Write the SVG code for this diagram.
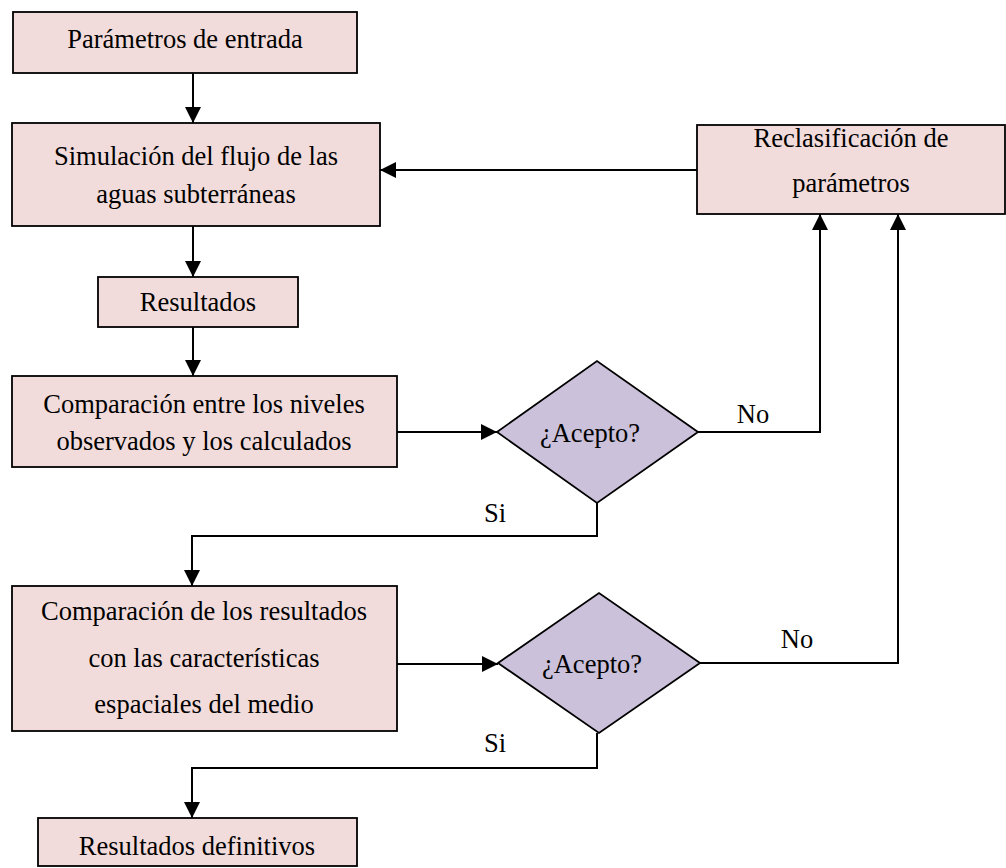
<svg xmlns="http://www.w3.org/2000/svg" width="1006" height="868" viewBox="0 0 1006 868">
<style>
.box{fill:#F2DCDB;stroke:#000;stroke-width:1.8}
.dia{fill:#CCC1DA;stroke:#000;stroke-width:1.8}
.t{font-family:"Liberation Serif","Times New Roman",serif;font-size:26.5px;fill:#000;text-anchor:middle}
.c{fill:none;stroke:#000;stroke-width:2}
</style>
<defs>
<marker id="ah" markerUnits="userSpaceOnUse" markerWidth="18" markerHeight="16" refX="16" refY="8" orient="auto">
<path d="M0,0 L16,8 L0,16 Z" fill="#000"/>
</marker>
</defs>
<rect width="1006" height="868" fill="#fff"/>
<g id="connectors">
<line class="c" x1="193" y1="73" x2="193" y2="123" marker-end="url(#ah)"/>
<line class="c" x1="193" y1="226" x2="193" y2="277" marker-end="url(#ah)"/>
<line class="c" x1="193" y1="327" x2="193" y2="376" marker-end="url(#ah)"/>
<line class="c" x1="397" y1="432" x2="497" y2="432" marker-end="url(#ah)"/>
<polyline class="c" points="698,432 820,432 820,214" marker-end="url(#ah)"/>
<line class="c" x1="697" y1="170" x2="380" y2="170" marker-end="url(#ah)"/>
<polyline class="c" points="597,503 597,536 192,536 192,586" marker-end="url(#ah)"/>
<line class="c" x1="397" y1="664" x2="498" y2="664" marker-end="url(#ah)"/>
<polyline class="c" points="700,663 898,663 898,214" marker-end="url(#ah)"/>
<polyline class="c" points="597,733 597,768 192,768 192,818" marker-end="url(#ah)"/>
<text class="t" x="753" y="423">No</text>
<text class="t" x="797" y="648">No</text>
<text class="t" x="495" y="522">Si</text>
<text class="t" x="495" y="752">Si</text>
</g>
<g id="n1"><rect class="box" x="13" y="12" width="344" height="61"/><text class="t" x="185" y="48">Parámetros de entrada</text></g>
<g id="n2"><rect class="box" x="12" y="123" width="368" height="103"/><text class="t" x="196" y="165">Simulación del flujo de las</text><text class="t" x="196" y="203">aguas subterráneas</text></g>
<g id="n3"><rect class="box" x="98" y="277" width="200" height="50"/><text class="t" x="198" y="311">Resultados</text></g>
<g id="n4"><rect class="box" x="12" y="376" width="385" height="91"/><text class="t" x="204" y="413">Comparación entre los niveles</text><text class="t" x="204" y="450">observados y los calculados</text></g>
<g id="d1"><polygon class="dia" points="497,432 597,361 698,432 597,503"/><text class="t" x="590" y="442">¿Acepto?</text></g>
<g id="n5"><rect class="box" x="12" y="586" width="385" height="145"/><text class="t" x="204" y="620">Comparación de los resultados</text><text class="t" x="204" y="667">con las características</text><text class="t" x="204" y="713">espaciales del medio</text></g>
<g id="d2"><polygon class="dia" points="498,663 599,593 700,663 599,733"/><text class="t" x="592" y="673">¿Acepto?</text></g>
<g id="n6"><rect class="box" x="38" y="818" width="319" height="48"/><text class="t" x="197" y="855">Resultados definitivos</text></g>
<g id="n7"><rect class="box" x="697" y="125" width="308" height="89"/><text class="t" x="851" y="147">Reclasificación de</text><text class="t" x="851" y="192">parámetros</text></g>
</svg>
